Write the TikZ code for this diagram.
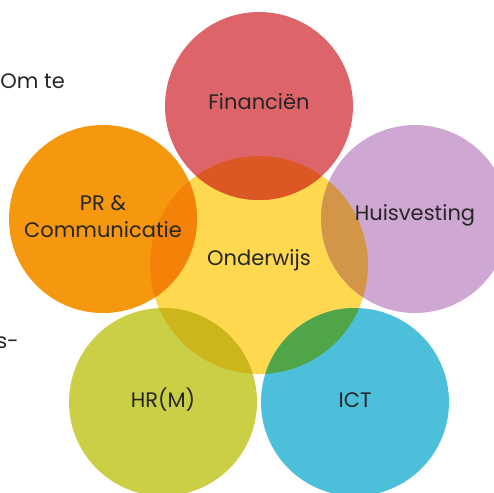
\documentclass[tikz,border=0pt]{standalone}
\usepackage{fontspec}
\setmainfont{Poppins}
\usepackage{tikz}

\definecolor{finred}{HTML}{DD6468}
\definecolor{prorange}{HTML}{F5970F}
\definecolor{ondyellow}{HTML}{FED84F}
\definecolor{huispurple}{HTML}{CEA8D2}
\definecolor{hrolive}{HTML}{CBCF45}
\definecolor{ictblue}{HTML}{4CBFDA}
\definecolor{finond}{HTML}{DB5824}
\definecolor{prond}{HTML}{F48208}
\definecolor{huisond}{HTML}{D39548}
\definecolor{hrond}{HTML}{CDB51C}
\definecolor{ictond}{HTML}{50A548}
\definecolor{txtgray}{HTML}{262626}

\tikzset{
  disc/.style={circle, minimum size=188pt, inner sep=0pt},
  bigdisc/.style={circle, minimum size=218pt, inner sep=0pt},
  lbl/.style={text=txtgray, font=\fontsize{21}{27}\selectfont, align=center, inner sep=0pt}
}

\begin{document}
\begin{tikzpicture}[x=1pt, y=-1pt]
        \useasboundingbox (0,0) rectangle (494,492);
        \clip (0,0) rectangle (494,492);
        % --- loose text from the page behind ---
        \node[lbl, anchor=east] (omte) at (65,81) {Om te};
        \node[lbl, anchor=east] (sdash) at (19,343) {s-};
        % --- the six circles ---
        \node[bigdisc, fill=ondyellow] (ond) at (259,265) {};
        \node[disc, fill=finred] (fin) at (259,106) {};
        \node[disc, fill=prorange] (pr) at (103,219) {};
        \node[disc, fill=huispurple] (huis) at (415,219) {};
        \node[disc, fill=hrolive] (hr) at (163,402) {};
        \node[disc, fill=ictblue] (ict) at (355,402) {};
        % --- overlaps with Onderwijs ---
        \begin{scope}
          \clip (ond.center) circle (109);
          \fill[finond] (fin.center) circle (94);
          \fill[prond] (pr.center) circle (94);
          \fill[huisond] (huis.center) circle (94);
          \fill[hrond] (hr.center) circle (94);
          \fill[ictond] (ict.center) circle (94);
        \end{scope}
        % --- labels ---
        \node[lbl] (finT) at (259,102) {Financiën};
        \node[lbl] (prT) at (103,217) {PR \&\\Communicatie};
        \node[lbl] (ondT) at (259,260) {Onderwijs};
        \node[lbl] (huisT) at (415,215) {Huisvesting};
        \node[lbl] (hrT) at (163,400) {HR(M)};
        \node[lbl] (ictT) at (355,400) {ICT};
        % ---
\end{tikzpicture}
\end{document}
